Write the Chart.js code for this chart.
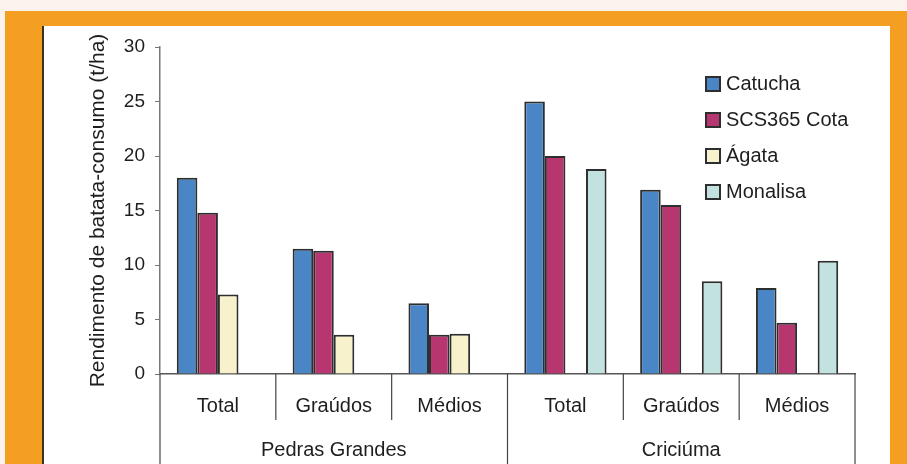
<!DOCTYPE html>
<html>
<head>
<meta charset="utf-8">
<script src="https://cdn.jsdelivr.net/npm/chart.js"></script>
<style>
    html, body { margin: 0; padding: 0; }
    body { width: 907px; height: 464px; background: #fdf3ee; position: relative; overflow: hidden; }
    #orange { position: absolute; left: 5px; top: 11px; right: 0; bottom: 0; background: #f59f22; }
    #panel { position: absolute; left: 42px; top: 26px; width: 846px; bottom: 0; background: #fff; border-left: 2px solid #3b3026; }
    #chart { position: absolute; left: 0; top: 0; }
</style>
</head>
<body>
<div id="orange"></div>
<div id="panel"></div>
<canvas id="chart" width="907" height="464"></canvas>
<script>
// Categorias (subgrupos) e locais
const categorias = ["Total", "Graúdos", "Médios", "Total", "Graúdos", "Médios"];
const locais = ["Pedras Grandes", "Criciúma"];

// Rendimento (t/ha) por cultivar
const catucha = [18.0, 11.5, 6.5, 25.0, 16.9, 7.9];
const scs365Cota = [14.8, 11.3, 3.6, 20.0, 15.5, 4.7];
const agata = [7.3, 3.6, 3.7, null, null, null];
const monalisa = [null, null, null, 18.8, 8.5, 10.4];

const yTicks = { min: 0, max: 30, step: 5 };

Chart.defaults.font.family = "'Liberation Sans', Arial, sans-serif";

// Linhas separadoras e rótulos dos locais abaixo do eixo x
const separadores = {
    id: "separadores",
    afterDraw(chart) {
        const ctx = chart.ctx;
        const x = chart.scales.x;
        const area = chart.chartArea;
        const half = (x.getPixelForValue(1) - x.getPixelForValue(0)) / 2;
        const porLocal = categorias.length / locais.length;
        const limites = [];
        for (let i = 0; i <= categorias.length; i++) {
            limites.push(i < categorias.length ? x.getPixelForValue(i) - half : x.getPixelForValue(i - 1) + half);
        }
        ctx.save();
        ctx.strokeStyle = "#444";
        ctx.lineWidth = 1.2;
        limites.forEach((px, i) => {
            const longa = i % porLocal === 0;
            ctx.beginPath();
            ctx.moveTo(px, area.bottom);
            ctx.lineTo(px, longa ? chart.height : area.bottom + 46);
            ctx.stroke();
        });
        ctx.fillStyle = "#1e1e1e";
        ctx.font = "20px 'Liberation Sans', Arial, sans-serif";
        ctx.textAlign = "center";
        ctx.textBaseline = "middle";
        locais.forEach((nome, g) => {
            const cx = (limites[g * porLocal] + limites[(g + 1) * porLocal]) / 2;
            ctx.fillText(nome, cx, 450);
        });
        ctx.restore();
    }
};

// Legenda dentro da área do gráfico
const legenda = {
    id: "legenda",
    afterDraw(chart) {
        const ctx = chart.ctx;
        ctx.save();
        ctx.font = "20px 'Liberation Sans', Arial, sans-serif";
        ctx.textBaseline = "middle";
        chart.data.datasets.forEach((ds, i) => {
            const y = 84 + i * 36;
            ctx.fillStyle = ds.backgroundColor;
            ctx.fillRect(706, y - 7, 14, 14);
            ctx.strokeStyle = "#2e2e2e";
            ctx.lineWidth = 2;
            ctx.strokeRect(706, y - 7, 14, 14);
            ctx.fillStyle = "#1e1e1e";
            ctx.fillText(ds.label, 726, y);
        });
        ctx.restore();
    }
};

const dataChart = {
    labels: categorias,
    datasets: [
        { label: "Catucha", data: catucha, backgroundColor: "#4a86c5" },
        { label: "SCS365 Cota", data: scs365Cota, backgroundColor: "#b8366f" },
        { label: "Ágata", data: agata, backgroundColor: "#f8f2cc" },
        { label: "Monalisa", data: monalisa, backgroundColor: "#c2e2df" },
    ].map(ds => Object.assign(ds, {
        borderColor: "#2e2e2e",
        borderWidth: 2,
        barPercentage: 1,
        categoryPercentage: 0.71,
    })),
};

const config = {
    type: "bar",
    data: dataChart,
    options: {
        responsive: false,
        animation: false,
        layout: { padding: { top: 47, right: 52, left: 0, bottom: 0 } },
        plugins: {
            legend: { display: false },
            tooltip: { enabled: false },
        },
        scales: {
            x: {
                ticks: { font: { size: 20 }, color: "#1e1e1e", padding: 20 },
                grid: { drawOnChartArea: false, drawTicks: false, color: "transparent" },
                border: { color: "#555", width: 1.5 },
                afterFit(s) { s.height = 90; },
            },
            y: {
                min: yTicks.min,
                max: yTicks.max,
                ticks: { stepSize: yTicks.step, padding: 10, font: { size: 19 }, color: "#1e1e1e" },
                grid: { drawOnChartArea: false, tickLength: 5, color: "#777" },
                border: { color: "#777", width: 1.5 },
                title: {
                    display: true,
                    text: "Rendimento de batata-consumo (t/ha)",
                    font: { size: 21 },
                    color: "#1e1e1e",
                    padding: { top: 86 },
                },
                afterFit(s) { s.width = 160; },
            },
        },
    },
    plugins: [separadores, legenda],
};

new Chart(document.getElementById("chart"), config);
</script>
</body>
</html>
